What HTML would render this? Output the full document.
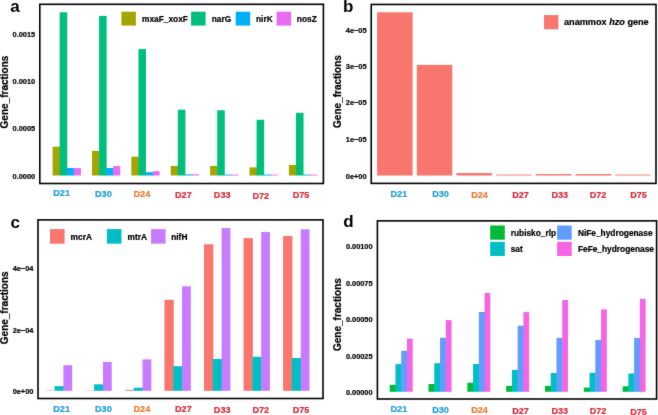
<!DOCTYPE html>
<html><head><meta charset="utf-8"><style>
html,body{margin:0;padding:0;background:#fff;width:658px;height:415px;overflow:hidden}
svg{display:block}
text{font-family:"Liberation Sans",sans-serif;font-weight:bold;stroke-width:0.22px;stroke-linejoin:round}
</style></head><body>
<svg width="658" height="415" viewBox="0 0 658 415">
<defs><filter id="bl" filterUnits="userSpaceOnUse" x="-10" y="-10" width="678" height="435" color-interpolation-filters="sRGB"><feConvolveMatrix order="3" kernelMatrix="1 2 1 2 32.0 2 1 2 1" edgeMode="duplicate" preserveAlpha="true"/></filter></defs>
<g filter="url(#bl)">
<rect x="-10" y="-10" width="678" height="435" fill="#fff"/>
<rect x="52.60" y="146.75" width="7.58" height="28.75" fill="#A3A500"/>
<rect x="59.68" y="12.30" width="7.58" height="163.20" fill="#00BF7D"/>
<rect x="66.76" y="168.00" width="7.58" height="7.50" fill="#00B0F6"/>
<rect x="73.84" y="168.00" width="7.08" height="7.50" fill="#E76BF3"/>
<rect x="91.98" y="150.90" width="7.58" height="24.60" fill="#A3A500"/>
<rect x="99.06" y="15.90" width="7.58" height="159.60" fill="#00BF7D"/>
<rect x="106.14" y="168.00" width="7.58" height="7.50" fill="#00B0F6"/>
<rect x="113.22" y="166.10" width="7.08" height="9.40" fill="#E76BF3"/>
<rect x="131.36" y="156.70" width="7.58" height="18.80" fill="#A3A500"/>
<rect x="138.44" y="49.10" width="7.58" height="126.40" fill="#00BF7D"/>
<rect x="145.52" y="172.20" width="7.58" height="3.30" fill="#00B0F6"/>
<rect x="152.60" y="171.20" width="7.08" height="4.30" fill="#E76BF3"/>
<rect x="170.74" y="165.90" width="7.58" height="9.60" fill="#A3A500"/>
<rect x="177.82" y="109.70" width="7.58" height="65.80" fill="#00BF7D"/>
<rect x="184.90" y="174.40" width="7.58" height="1.10" fill="#00B0F6"/>
<rect x="191.98" y="174.40" width="7.08" height="1.10" fill="#E76BF3"/>
<rect x="210.12" y="165.90" width="7.58" height="9.60" fill="#A3A500"/>
<rect x="217.20" y="110.30" width="7.58" height="65.20" fill="#00BF7D"/>
<rect x="224.28" y="174.60" width="7.58" height="0.90" fill="#00B0F6"/>
<rect x="231.36" y="174.60" width="7.08" height="0.90" fill="#E76BF3"/>
<rect x="249.50" y="167.40" width="7.58" height="8.10" fill="#A3A500"/>
<rect x="256.58" y="119.80" width="7.58" height="55.70" fill="#00BF7D"/>
<rect x="263.66" y="174.60" width="7.58" height="0.90" fill="#00B0F6"/>
<rect x="270.74" y="174.60" width="7.08" height="0.90" fill="#E76BF3"/>
<rect x="288.88" y="165.00" width="7.58" height="10.50" fill="#A3A500"/>
<rect x="295.96" y="112.80" width="7.58" height="62.70" fill="#00BF7D"/>
<rect x="303.04" y="174.60" width="7.58" height="0.90" fill="#00B0F6"/>
<rect x="310.12" y="174.60" width="7.08" height="0.90" fill="#E76BF3"/>
<rect x="39.80" y="4.30" width="283.60" height="179.20" fill="none" stroke="#000" stroke-width="1.6"/>
<text x="35.20" y="178.50" font-size="7.4" fill="#000" stroke="#000" text-anchor="end" >0.0000</text>
<text x="35.20" y="131.40" font-size="7.4" fill="#000" stroke="#000" text-anchor="end" >0.0005</text>
<text x="35.20" y="84.20" font-size="7.4" fill="#000" stroke="#000" text-anchor="end" >0.0010</text>
<text x="35.20" y="37.00" font-size="7.4" fill="#000" stroke="#000" text-anchor="end" >0.0015</text>
<text x="0.00" y="0.00" font-size="10" fill="#000" stroke="#000" text-anchor="middle" transform="translate(7.6,92) rotate(-90)">Gene_fractions</text>
<text x="10.3" y="11.8" font-size="17" fill="#000" style="stroke:none">a</text>
<rect x="121.40" y="11.70" width="14.50" height="13.90" fill="#A3A500"/>
<text x="142.00" y="21.90" font-size="8.35" fill="#000" stroke="#000" text-anchor="start" >mxaF_xoxF</text>
<rect x="191.10" y="11.70" width="14.50" height="13.90" fill="#00BF7D"/>
<text x="211.70" y="21.90" font-size="8.35" fill="#000" stroke="#000" text-anchor="start" >narG</text>
<rect x="235.70" y="11.70" width="14.50" height="13.90" fill="#00B0F6"/>
<text x="256.00" y="21.90" font-size="8.35" fill="#000" stroke="#000" text-anchor="start" >nirK</text>
<rect x="276.60" y="11.70" width="14.50" height="13.90" fill="#E76BF3"/>
<text x="296.80" y="21.90" font-size="8.35" fill="#000" stroke="#000" text-anchor="start" >nosZ</text>
<text x="61.65" y="196.40" font-size="9.1" fill="#239fd8" stroke="#239fd8" text-anchor="middle" >D21</text>
<text x="103.40" y="196.80" font-size="9.1" fill="#239fd8" stroke="#239fd8" text-anchor="middle" >D30</text>
<text x="141.90" y="197.30" font-size="9.1" fill="#e87c36" stroke="#e87c36" text-anchor="middle" >D24</text>
<text x="183.40" y="197.90" font-size="9.1" fill="#d0303e" stroke="#d0303e" text-anchor="middle" >D27</text>
<text x="222.20" y="198.40" font-size="9.1" fill="#d0303e" stroke="#d0303e" text-anchor="middle" >D33</text>
<text x="260.80" y="198.50" font-size="9.1" fill="#d0303e" stroke="#d0303e" text-anchor="middle" >D72</text>
<text x="301.10" y="198.40" font-size="9.1" fill="#d0303e" stroke="#d0303e" text-anchor="middle" >D75</text>
<rect x="377.10" y="12.30" width="35.50" height="163.20" fill="#F8766D"/>
<rect x="416.78" y="64.90" width="35.50" height="110.60" fill="#F8766D"/>
<rect x="456.46" y="173.00" width="35.50" height="2.50" fill="#F8766D"/>
<rect x="496.14" y="174.60" width="35.50" height="0.90" fill="#F8766D"/>
<rect x="535.82" y="174.00" width="35.50" height="1.50" fill="#F8766D"/>
<rect x="575.50" y="174.00" width="35.50" height="1.50" fill="#F8766D"/>
<rect x="615.18" y="174.60" width="35.50" height="0.90" fill="#F8766D"/>
<rect x="371.25" y="4.45" width="284.75" height="178.95" fill="none" stroke="#000" stroke-width="1.6"/>
<text x="366.60" y="178.70" font-size="7.4" fill="#000" stroke="#000" text-anchor="end" >0e+00</text>
<text x="366.60" y="141.90" font-size="7.4" fill="#000" stroke="#000" text-anchor="end" >1e−05</text>
<text x="366.60" y="105.40" font-size="7.4" fill="#000" stroke="#000" text-anchor="end" >2e−05</text>
<text x="366.60" y="68.90" font-size="7.4" fill="#000" stroke="#000" text-anchor="end" >3e−05</text>
<text x="366.60" y="32.50" font-size="7.4" fill="#000" stroke="#000" text-anchor="end" >4e−05</text>
<text x="0.00" y="0.00" font-size="10" fill="#000" stroke="#000" text-anchor="middle" transform="translate(340.6,91.5) rotate(-90)">Gene_fractions</text>
<text x="343.0" y="11.8" font-size="17" fill="#000" style="stroke:none">b</text>
<rect x="544.00" y="15.10" width="14.40" height="14.20" fill="#F8766D"/>
<text x="564.0" y="25.2" font-size="9.15" fill="#000" stroke="#000">anammox <tspan font-style="italic">hzo</tspan> gene</text>
<text x="398.90" y="196.90" font-size="9.1" fill="#239fd8" stroke="#239fd8" text-anchor="middle" >D21</text>
<text x="440.50" y="197.20" font-size="9.1" fill="#239fd8" stroke="#239fd8" text-anchor="middle" >D30</text>
<text x="479.50" y="197.50" font-size="9.1" fill="#e87c36" stroke="#e87c36" text-anchor="middle" >D24</text>
<text x="520.50" y="197.80" font-size="9.1" fill="#d0303e" stroke="#d0303e" text-anchor="middle" >D27</text>
<text x="559.80" y="198.10" font-size="9.1" fill="#d0303e" stroke="#d0303e" text-anchor="middle" >D33</text>
<text x="598.00" y="198.30" font-size="9.1" fill="#d0303e" stroke="#d0303e" text-anchor="middle" >D72</text>
<text x="638.50" y="198.40" font-size="9.1" fill="#d0303e" stroke="#d0303e" text-anchor="middle" >D75</text>
<rect x="45.80" y="390.50" width="9.30" height="0.30" fill="#F8766D"/>
<rect x="54.60" y="386.10" width="9.30" height="4.70" fill="#00BFC4"/>
<rect x="63.40" y="365.20" width="8.80" height="25.60" fill="#C77CFF"/>
<rect x="85.35" y="390.50" width="9.30" height="0.30" fill="#F8766D"/>
<rect x="94.15" y="384.30" width="9.30" height="6.50" fill="#00BFC4"/>
<rect x="102.95" y="361.90" width="8.80" height="28.90" fill="#C77CFF"/>
<rect x="124.90" y="389.90" width="9.30" height="0.90" fill="#F8766D"/>
<rect x="133.70" y="387.70" width="9.30" height="3.10" fill="#00BFC4"/>
<rect x="142.50" y="359.40" width="8.80" height="31.40" fill="#C77CFF"/>
<rect x="164.45" y="299.80" width="9.30" height="91.00" fill="#F8766D"/>
<rect x="173.25" y="366.20" width="9.30" height="24.60" fill="#00BFC4"/>
<rect x="182.05" y="286.30" width="8.80" height="104.50" fill="#C77CFF"/>
<rect x="204.00" y="244.30" width="9.30" height="146.50" fill="#F8766D"/>
<rect x="212.80" y="358.90" width="9.30" height="31.90" fill="#00BFC4"/>
<rect x="221.60" y="228.10" width="8.80" height="162.70" fill="#C77CFF"/>
<rect x="243.55" y="238.10" width="9.30" height="152.70" fill="#F8766D"/>
<rect x="252.35" y="356.80" width="9.30" height="34.00" fill="#00BFC4"/>
<rect x="261.15" y="232.00" width="8.80" height="158.80" fill="#C77CFF"/>
<rect x="283.10" y="236.00" width="9.30" height="154.80" fill="#F8766D"/>
<rect x="291.90" y="358.00" width="9.30" height="32.80" fill="#00BFC4"/>
<rect x="300.70" y="229.30" width="8.80" height="161.50" fill="#C77CFF"/>
<rect x="38.00" y="219.90" width="285.00" height="178.60" fill="none" stroke="#000" stroke-width="1.6"/>
<text x="33.40" y="394.10" font-size="7.4" fill="#000" stroke="#000" text-anchor="end" >0e+00</text>
<text x="33.40" y="332.50" font-size="7.4" fill="#000" stroke="#000" text-anchor="end" >2e−04</text>
<text x="33.40" y="271.10" font-size="7.4" fill="#000" stroke="#000" text-anchor="end" >4e−04</text>
<text x="0.00" y="0.00" font-size="10" fill="#000" stroke="#000" text-anchor="middle" transform="translate(7.6,307.8) rotate(-90)">Gene_fractions</text>
<text x="10.4" y="227.6" font-size="17" fill="#000" style="stroke:none">c</text>
<rect x="50.00" y="229.10" width="14.60" height="14.60" fill="#F8766D"/>
<text x="70.60" y="239.70" font-size="8.35" fill="#000" stroke="#000" text-anchor="start" >mcrA</text>
<rect x="106.90" y="229.10" width="14.60" height="14.60" fill="#00BFC4"/>
<text x="127.50" y="239.70" font-size="8.35" fill="#000" stroke="#000" text-anchor="start" >mtrA</text>
<rect x="151.00" y="229.10" width="14.60" height="14.60" fill="#C77CFF"/>
<text x="171.20" y="239.70" font-size="8.35" fill="#000" stroke="#000" text-anchor="start" >nifH</text>
<text x="61.65" y="411.50" font-size="9.1" fill="#239fd8" stroke="#239fd8" text-anchor="middle" >D21</text>
<text x="103.40" y="411.80" font-size="9.1" fill="#239fd8" stroke="#239fd8" text-anchor="middle" >D30</text>
<text x="141.90" y="412.00" font-size="9.1" fill="#e87c36" stroke="#e87c36" text-anchor="middle" >D24</text>
<text x="183.40" y="412.30" font-size="9.1" fill="#d0303e" stroke="#d0303e" text-anchor="middle" >D27</text>
<text x="222.20" y="412.60" font-size="9.1" fill="#d0303e" stroke="#d0303e" text-anchor="middle" >D33</text>
<text x="260.80" y="412.90" font-size="9.1" fill="#d0303e" stroke="#d0303e" text-anchor="middle" >D72</text>
<text x="301.10" y="413.10" font-size="9.1" fill="#d0303e" stroke="#d0303e" text-anchor="middle" >D75</text>
<rect x="389.70" y="384.80" width="6.25" height="7.00" fill="#00BA38"/>
<rect x="395.45" y="364.10" width="6.25" height="27.70" fill="#00BFC4"/>
<rect x="401.20" y="350.80" width="6.25" height="41.00" fill="#619CFF"/>
<rect x="406.95" y="338.60" width="5.75" height="53.20" fill="#F564E3"/>
<rect x="428.52" y="384.00" width="6.25" height="7.80" fill="#00BA38"/>
<rect x="434.27" y="363.20" width="6.25" height="28.60" fill="#00BFC4"/>
<rect x="440.02" y="337.80" width="6.25" height="54.00" fill="#619CFF"/>
<rect x="445.77" y="320.10" width="5.75" height="71.70" fill="#F564E3"/>
<rect x="467.34" y="382.70" width="6.25" height="9.10" fill="#00BA38"/>
<rect x="473.09" y="364.00" width="6.25" height="27.80" fill="#00BFC4"/>
<rect x="478.84" y="312.00" width="6.25" height="79.80" fill="#619CFF"/>
<rect x="484.59" y="293.00" width="5.75" height="98.80" fill="#F564E3"/>
<rect x="506.16" y="385.90" width="6.25" height="5.90" fill="#00BA38"/>
<rect x="511.91" y="369.90" width="6.25" height="21.90" fill="#00BFC4"/>
<rect x="517.66" y="325.70" width="6.25" height="66.10" fill="#619CFF"/>
<rect x="523.41" y="312.10" width="5.75" height="79.70" fill="#F564E3"/>
<rect x="544.98" y="385.90" width="6.25" height="5.90" fill="#00BA38"/>
<rect x="550.73" y="373.00" width="6.25" height="18.80" fill="#00BFC4"/>
<rect x="556.48" y="337.90" width="6.25" height="53.90" fill="#619CFF"/>
<rect x="562.23" y="300.00" width="5.75" height="91.80" fill="#F564E3"/>
<rect x="583.80" y="387.60" width="6.25" height="4.20" fill="#00BA38"/>
<rect x="589.55" y="372.90" width="6.25" height="18.90" fill="#00BFC4"/>
<rect x="595.30" y="340.00" width="6.25" height="51.80" fill="#619CFF"/>
<rect x="601.05" y="309.40" width="5.75" height="82.40" fill="#F564E3"/>
<rect x="622.62" y="386.30" width="6.25" height="5.50" fill="#00BA38"/>
<rect x="628.37" y="373.50" width="6.25" height="18.30" fill="#00BFC4"/>
<rect x="634.12" y="337.90" width="6.25" height="53.90" fill="#619CFF"/>
<rect x="639.87" y="298.80" width="5.75" height="93.00" fill="#F564E3"/>
<rect x="377.40" y="220.85" width="279.20" height="178.15" fill="none" stroke="#000" stroke-width="1.6"/>
<text x="372.60" y="394.90" font-size="7.4" fill="#000" stroke="#000" text-anchor="end" >0.00000</text>
<text x="372.60" y="358.50" font-size="7.4" fill="#000" stroke="#000" text-anchor="end" >0.00025</text>
<text x="372.60" y="322.00" font-size="7.4" fill="#000" stroke="#000" text-anchor="end" >0.00050</text>
<text x="372.60" y="285.50" font-size="7.4" fill="#000" stroke="#000" text-anchor="end" >0.00075</text>
<text x="372.60" y="249.20" font-size="7.4" fill="#000" stroke="#000" text-anchor="end" >0.00100</text>
<text x="0.00" y="0.00" font-size="10" fill="#000" stroke="#000" text-anchor="middle" transform="translate(341.0,314.6) rotate(-90)">Gene_fractions</text>
<text x="343.2" y="227.2" font-size="17" fill="#000" style="stroke:none">d</text>
<rect x="490.20" y="225.50" width="14.60" height="14.20" fill="#00BA38"/>
<text x="510.70" y="235.90" font-size="8.35" fill="#000" stroke="#000" text-anchor="start" >rubisko_rlp</text>
<rect x="490.20" y="241.80" width="14.60" height="14.20" fill="#00BFC4"/>
<text x="510.70" y="252.20" font-size="8.35" fill="#000" stroke="#000" text-anchor="start" >sat</text>
<rect x="557.10" y="225.50" width="14.60" height="14.20" fill="#619CFF"/>
<text x="577.90" y="235.90" font-size="8.35" fill="#000" stroke="#000" text-anchor="start" >NiFe_hydrogenase</text>
<rect x="557.10" y="241.80" width="14.60" height="14.20" fill="#F564E3"/>
<text x="577.90" y="252.20" font-size="8.35" fill="#000" stroke="#000" text-anchor="start" >FeFe_hydrogenase</text>
<text x="398.90" y="412.40" font-size="9.1" fill="#239fd8" stroke="#239fd8" text-anchor="middle" >D21</text>
<text x="440.50" y="412.80" font-size="9.1" fill="#239fd8" stroke="#239fd8" text-anchor="middle" >D30</text>
<text x="479.50" y="413.20" font-size="9.1" fill="#e87c36" stroke="#e87c36" text-anchor="middle" >D24</text>
<text x="520.50" y="413.60" font-size="9.1" fill="#d0303e" stroke="#d0303e" text-anchor="middle" >D27</text>
<text x="559.80" y="414.00" font-size="9.1" fill="#d0303e" stroke="#d0303e" text-anchor="middle" >D33</text>
<text x="598.00" y="414.40" font-size="9.1" fill="#d0303e" stroke="#d0303e" text-anchor="middle" >D72</text>
<text x="638.50" y="414.70" font-size="9.1" fill="#d0303e" stroke="#d0303e" text-anchor="middle" >D75</text>
</g>
</svg>
</body></html>
